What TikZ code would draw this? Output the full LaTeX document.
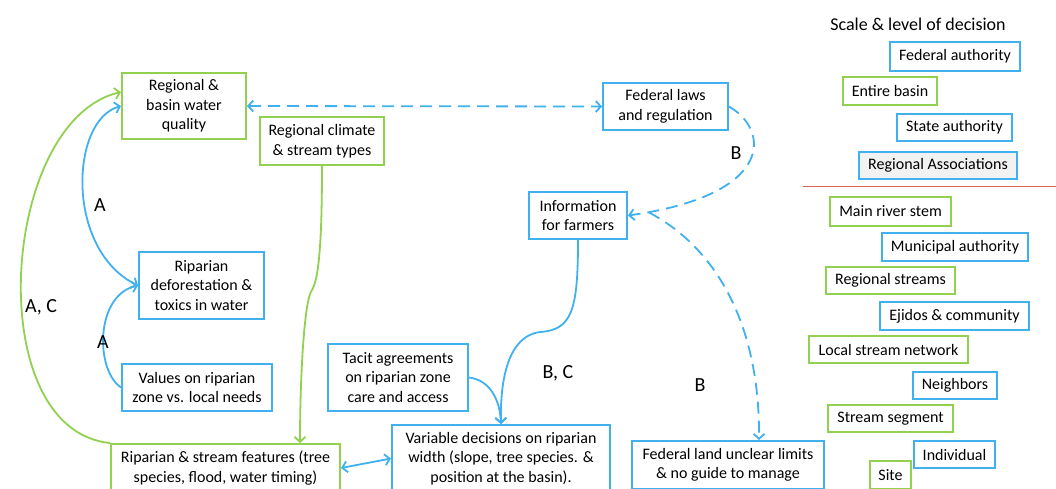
\documentclass[tikz,border=0pt]{standalone}
\usepackage{fontspec}
\setmainfont{Carlito}
\usetikzlibrary{arrows.meta,calc}
\definecolor{bl}{HTML}{41B0EE}
\definecolor{gr}{HTML}{92D050}
\definecolor{rd}{HTML}{D9625E}
\definecolor{lg}{HTML}{F2F2F2}
\begin{document}
\begin{tikzpicture}[x=1pt,y=-1pt,
  box/.style={draw, line width=2pt, inner sep=0pt, align=center, text=black,
    font=\fontsize{16}{19.5}\selectfont},
  bbox/.style={box, draw=bl},
  gbox/.style={box, draw=gr},
  conn/.style={line width=1.8pt},
  dsh/.style={dash pattern=on 12pt off 7pt},
  lbl/.style={font=\fontsize{20}{20}\selectfont, inner sep=0pt},
  >={Straight Barb[length=5pt,width=11pt]}
]
\clip (0,0) rectangle (1056,488);
\fill[white] (0,0) rectangle (1056,488);

% main diagram boxes
\node[gbox, minimum width=124pt, minimum height=66pt] (rbwq) at (184,106) {Regional \&\\basin water\\quality};
\node[gbox, minimum width=124pt, minimum height=48pt] (clim) at (322,141) {Regional climate\\\& stream types};
\node[bbox, minimum width=125pt, minimum height=47pt] (fedlaws) at (665.5,106.5) {Federal laws\\and regulation};
\node[bbox, minimum width=98pt, minimum height=47pt] (info) at (578,215.5) {Information\\for farmers};
\node[bbox, minimum width=125pt, minimum height=67pt] (defor) at (201.5,285.5) {Riparian\\deforestation \&\\toxics in water};
\node[bbox, minimum width=150pt, minimum height=47pt] (values) at (197,387.5) {Values on riparian\\zone vs. local needs};
\node[bbox, minimum width=140pt, minimum height=67pt] (tacit) at (398,377.5) {Tacit agreements\\on riparian zone\\care and access};
\node[gbox, minimum width=229pt, minimum height=48pt] (feat) at (225.5,468) {Riparian \& stream features (tree\\species, flood, water timing)};
\node[bbox, minimum width=218pt, minimum height=67pt] (vard) at (501,458.5) {Variable decisions on riparian\\width (slope, tree species. \&\\position at the basin).};
\node[bbox, minimum width=192pt, minimum height=48pt] (fland) at (728,465) {Federal land unclear limits\\\& no guide to manage};

% right column
\node[font=\fontsize{18}{18}\selectfont, inner sep=0pt] (title) at (918,24) {Scale \& level of decision};
\node[bbox, minimum width=130pt, minimum height=29pt] (fedauth) at (955,56.5) {Federal authority};
\node[gbox, minimum width=94pt, minimum height=28pt] (entire) at (890,91) {Entire basin};
\node[bbox, minimum width=115pt, minimum height=27pt] (state) at (954.5,127.5) {State authority};
\node[bbox, fill=lg, minimum width=158pt, minimum height=27pt] (regassoc) at (938,165.5) {Regional Associations};
\coordinate (sepL) at (803,186);
\coordinate (sepR) at (1056,186);
\draw[rd, line width=1pt] (sepL) -- (sepR);
\node[gbox, minimum width=121pt, minimum height=29pt] (mainstem) at (890.5,211.5) {Main river stem};
\node[bbox, minimum width=146pt, minimum height=28pt] (muni) at (955,247) {Municipal authority};
\node[gbox, minimum width=129pt, minimum height=27pt] (rstreams) at (890.5,280.5) {Regional streams};
\node[bbox, minimum width=149pt, minimum height=28pt] (ejidos) at (954.5,316) {Ejidos \& community};
\node[gbox, minimum width=159pt, minimum height=27pt] (local) at (888.5,349.5) {Local stream network};
\node[bbox, minimum width=84pt, minimum height=27pt] (neigh) at (955,385.5) {Neighbors};
\node[gbox, minimum width=125pt, minimum height=27pt] (seg) at (890.5,418.5) {Stream segment};
\node[bbox, minimum width=81pt, minimum height=27pt] (indiv) at (954.5,454.5) {Individual};
\node[gbox, minimum width=41pt, minimum height=28pt] (site) at (890.5,475) {Site};

% connectors
\draw[conn, bl, dsh, <->] (rbwq.east) -- (fedlaws.west);
\draw[conn, bl, dsh, ->] (fedlaws.east) .. controls (770,130) and (775,195) .. (info.east);
\node[lbl] (lB1) at (736,153) {B};
\coordinate (infoR) at ($(info.east)+(21,-3)$);
\coordinate (flandT) at ($(fland.north)+(31,0)$);
\draw[conn, bl, dsh, ->] (infoR) .. controls (720,250) and (760,330) .. (flandT);
\node[lbl] (lB2) at (700,385) {B};
\coordinate (kink1) at (540,332);
\draw[conn, bl, ->] (info.south) .. controls (578,310) and (572,330) .. (kink1) .. controls (508,336) and (500,380) .. (vard.north);
\node[lbl] (lBC) at (558,373) {B, C};
\draw[conn, bl, ->] (tacit.east) .. controls (490,380) and (500,400) .. (vard.north);
\draw[conn, bl, <->] (feat.east) -- (vard.west);
\coordinate (kink2) at (312,290);
\coordinate (featT) at ($(feat.north)+(74.5,0)$);
\draw[conn, gr, ->] (clim.south) .. controls (322,250) and (318,280) .. (kink2) .. controls (304,300) and (300,380) .. (featT);
\coordinate (rbwqL) at ($(rbwq.west)+(0,-14)$);
\draw[conn, gr, ->] (feat.north west) .. controls (-20,430) and (0,120) .. (rbwqL);
\node[lbl] (lAC) at (41,307) {A, C};
\draw[conn, bl, <->] (rbwq.west) .. controls (70,120) and (65,250) .. (defor.west);
\node[lbl] (lA1) at (100,205) {A};
\draw[conn, bl, ->] (values.west) .. controls (95,370) and (95,295) .. (defor.west);
\node[lbl] (lA2) at (103,342) {A};
\end{tikzpicture}
\end{document}
